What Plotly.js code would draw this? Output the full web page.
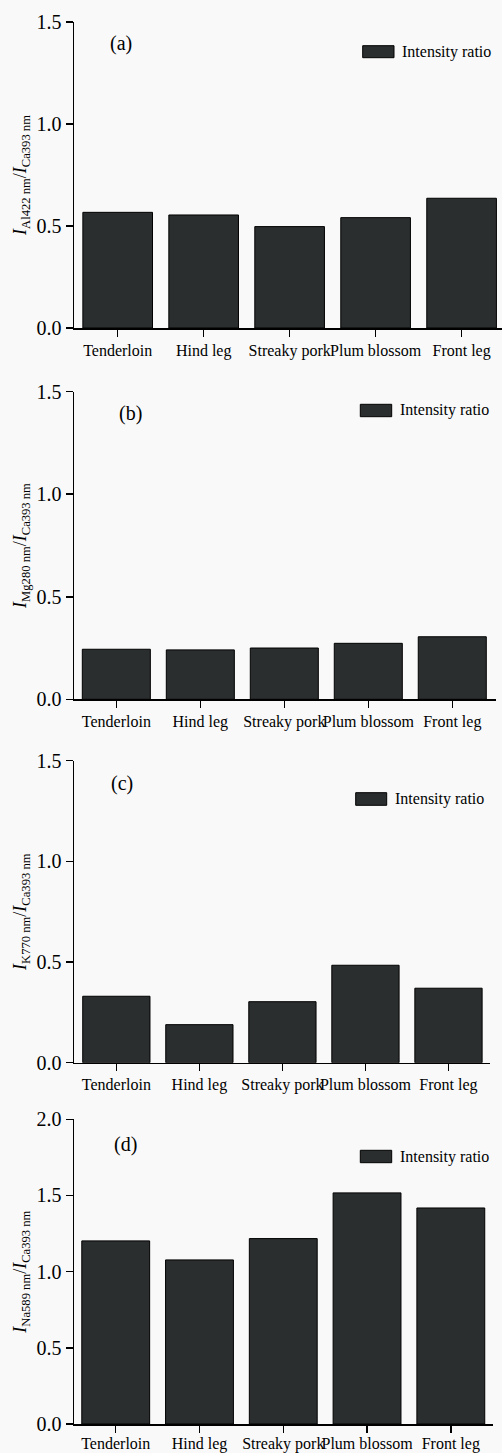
<!DOCTYPE html>
<html>
<head>
<meta charset="utf-8">
<script src="https://cdn.plot.ly/plotly-3.0.1.min.js"></script>
<style>html,body{margin:0;padding:0;background:#f9f9f9;}#chart{width:502px;height:1453px;}</style>
</head>
<body>
<div id="chart"></div>
<script>
// ---- data ----
const categories = ["Tenderloin", "Hind leg", "Streaky pork", "Plum blossom", "Front leg"];
const ratioAl422 = [0.567, 0.554, 0.497, 0.541, 0.636];
const ratioMg280 = [0.244, 0.241, 0.250, 0.273, 0.305];
const ratioK770  = [0.330, 0.189, 0.303, 0.484, 0.370];
const ratioNa589 = [1.202, 1.077, 1.217, 1.517, 1.418];
const panelLabels = ["(a)", "(b)", "(c)", "(d)"];
const yTitles = [
  "<i>I</i><sub>Al422 nm</sub>/<i>I</i><sub>Ca393 nm</sub>",
  "<i>I</i><sub>Mg280 nm</sub>/<i>I</i><sub>Ca393 nm</sub>",
  "<i>I</i><sub>K770 nm</sub>/<i>I</i><sub>Ca393 nm</sub>",
  "<i>I</i><sub>Na589 nm</sub>/<i>I</i><sub>Ca393 nm</sub>"
];
const seriesName = "Intensity ratio";

// ---- layout geometry (pixels) ----
const W = 502, H = 1453;
const FONT = "Liberation Serif, Times New Roman, serif";
const BAR = "#2b2e2f";
const panels = [
  {data: ratioAl422, top: 22,    bottom: 328,    right: 502,   xr: [-0.508, 4.47], yr: [0, 1.5], leg: [362.7, 45.7, 394, 57.7], lab: [121, 43], so: 0},
  {data: ratioMg280, top: 391.7, bottom: 699.3,  right: 495.7, xr: [-0.504, 4.517], yr: [0, 1.5], leg: [360.3, 404.3, 391.7, 416.7], lab: [130, 413], so: 0},
  {data: ratioK770,  top: 760.7, bottom: 1062.7, right: 490,   xr: [-0.51, 4.50], yr: [0, 1.5], leg: [355.7, 792.7, 386.7, 805.3], lab: [122, 784], so: 0},
  {data: ratioNa589, top: 1119.3,bottom: 1424,   right: 492.7, xr: [-0.498, 4.5], yr: [0, 2.0], leg: [360.3, 1150.3, 391.7, 1162.7], lab: [125, 1144], so: -3}
];
const left = 74;
const px = x => x / W;
const py = y => 1 - y / H;

const traces = [];
const layout = {
  width: W, height: H,
  margin: {l: 0, r: 0, t: 0, b: 0},
  paper_bgcolor: "#f9f9f9",
  plot_bgcolor: "#f9f9f9",
  showlegend: false,
  bargap: 0.19,
  font: {family: FONT, color: "#000"},
  shapes: [],
  annotations: []
};

panels.forEach((p, i) => {
  const n = i === 0 ? "" : String(i + 1);
  traces.push({
    type: "bar",
    x: categories,
    y: p.data,
    name: seriesName,
    xaxis: "x" + n,
    yaxis: "y" + n,
    marker: {color: BAR, line: {color: "#000", width: 1}},
    hoverinfo: "x+y"
  });
  layout["xaxis" + n] = {
    domain: [px(left), px(p.right)],
    range: p.xr,
    anchor: "y" + n,
    type: "category",
    showline: true, linecolor: "#000", linewidth: 1.5,
    ticks: "outside", ticklen: 7, tickwidth: 1.5, tickcolor: "#000",
    tickangle: 0,
    ticklabelstandoff: p.so,
    showgrid: false, zeroline: false,
    tickfont: {family: FONT, size: 16, color: "#000"},
    fixedrange: true
  };
  layout["yaxis" + n] = {
    domain: [py(p.bottom), py(p.top)],
    range: p.yr,
    anchor: "x" + n,
    dtick: 0.5, tick0: 0, tickformat: ".1f",
    showline: true, linecolor: "#000", linewidth: 1.5,
    ticks: "outside", ticklen: 7, tickwidth: 1.5, tickcolor: "#000",
    showgrid: false, zeroline: false,
    tickfont: {family: FONT, size: 20, color: "#000"},
    title: {text: yTitles[i], font: {family: FONT, size: 18, color: "#000"}, standoff: 5},
    fixedrange: true
  };
  // legend swatch + text
  layout.shapes.push({
    type: "rect", xref: "paper", yref: "paper",
    x0: px(p.leg[0]), x1: px(p.leg[2]), y0: py(p.leg[3]), y1: py(p.leg[1]),
    fillcolor: BAR, line: {color: "#000", width: 1}
  });
  layout.annotations.push({
    xref: "paper", yref: "paper",
    x: px(p.leg[2] + 6), y: py((p.leg[1] + p.leg[3]) / 2),
    xanchor: "left", yanchor: "middle", showarrow: false,
    text: seriesName, font: {family: FONT, size: 16, color: "#000"}
  });
  layout.annotations.push({
    xref: "paper", yref: "paper",
    x: px(p.lab[0]), y: py(p.lab[1]),
    xanchor: "center", yanchor: "middle", showarrow: false,
    text: panelLabels[i], font: {family: FONT, size: 20, color: "#000"}
  });
});

Plotly.newPlot("chart", traces, layout, {displayModeBar: false, staticPlot: true});
</script>
</body>
</html>
